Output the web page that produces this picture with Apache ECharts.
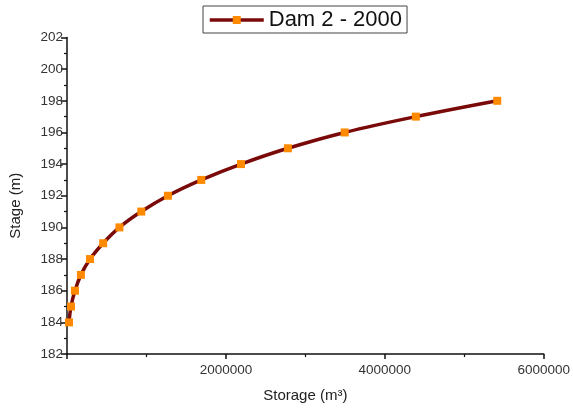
<!DOCTYPE html>
<html><head><meta charset="utf-8">
<script src="https://cdn.jsdelivr.net/npm/echarts@6/dist/echarts.min.js"></script>
<style>html,body{margin:0;padding:0;background:#fff}#c{width:573px;height:408px}</style>
</head><body><div id="c"></div>
<script>
const seriesName = 'Dam 2 - 2000';
const storage = [25000, 50000, 100000, 175000, 290000, 455000, 660000, 935000, 1270000, 1690000, 2190000, 2780000, 3495000, 4390000, 5415000];
const stage = [184, 185, 186, 187, 188, 189, 190, 191, 192, 193, 194, 195, 196, 197, 198];
const xTicks = [0, 2000000, 4000000, 6000000];
const yTicks = [182, 184, 186, 188, 190, 192, 194, 196, 198, 200, 202];

const font = 'Liberation Sans, Arial, sans-serif';
const chart = echarts.init(document.getElementById('c'), null, {renderer: 'canvas'});
chart.setOption({
  animation: false,
  backgroundColor: '#fff',
  textStyle: {fontFamily: font},
  legend: {
    left: 203, top: 6,
    padding: [3, 5, 2, 5],
    borderColor: '#444', borderWidth: 1,
    backgroundColor: '#fff',
    itemWidth: 54, itemHeight: 10, itemGap: 6,
    lineStyle: {width: 3.5, color: '#7a0a0a'},
    textStyle: {fontSize: 22, color: '#111', fontFamily: font},
    data: [seriesName]
  },
  grid: {left: 66, right: 27, top: 37.5, bottom: 53.5, containLabel: false},
  xAxis: {
    type: 'value', min: xTicks[0], max: xTicks[xTicks.length - 1], interval: 2000000,
    name: 'Storage (m³)', nameLocation: 'middle', nameGap: 34,
    nameTextStyle: {fontSize: 15, color: '#222', fontFamily: font},
    axisLine: {onZero: false, lineStyle: {color: '#111', width: 1.5}},
    axisTick: {show: true, length: 5, lineStyle: {color: '#111', width: 1.5}},
    minorTick: {show: true, splitNumber: 2, length: 3, lineStyle: {color: '#111', width: 1.2}},
    splitLine: {show: false},
    axisLabel: {fontSize: 13.5, color: '#333', margin: 9, fontFamily: font,
      formatter: v => v === 0 ? '' : String(v)}
  },
  yAxis: {
    type: 'value', min: yTicks[0], max: yTicks[yTicks.length - 1], interval: 2,
    name: 'Stage (m)', nameLocation: 'middle', nameGap: 44,
    nameTextStyle: {fontSize: 15, color: '#222', fontFamily: font, padding: [0, 20, 0, 0]},
    axisLine: {onZero: false, lineStyle: {color: '#111', width: 1.5}},
    axisTick: {show: true, length: 6, lineStyle: {color: '#111', width: 1.5}},
    minorTick: {show: true, splitNumber: 2, length: 3, lineStyle: {color: '#111', width: 1.2}},
    splitLine: {show: false},
    axisLabel: {fontSize: 13.5, color: '#333', margin: 4, fontFamily: font}
  },
  series: [{
    name: seriesName,
    type: 'line',
    smooth: 0.3,
    data: storage.map((s, i) => [s, stage[i]]),
    lineStyle: {color: '#7a0a0a', width: 3.5},
    itemStyle: {color: '#ff8a00'},
    symbol: 'rect', symbolSize: 8,
    showSymbol: true
  }]
});
</script></body></html>
